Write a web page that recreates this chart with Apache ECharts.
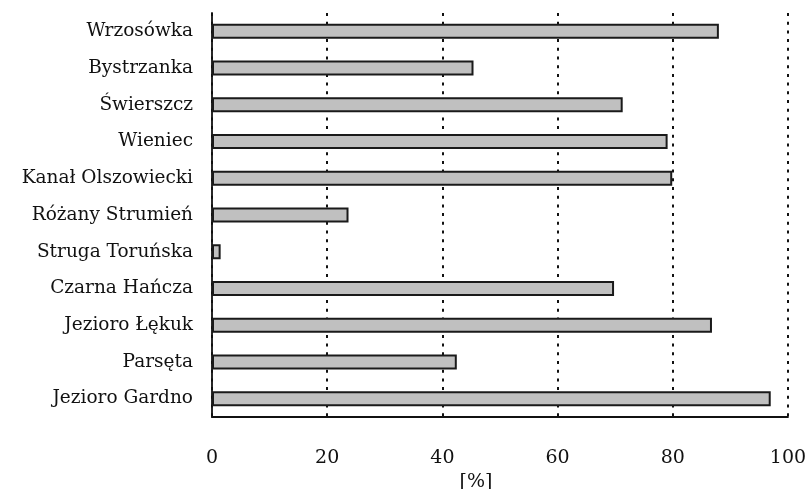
<!DOCTYPE html>
<html><head><meta charset="utf-8">
<script src="https://cdn.jsdelivr.net/npm/echarts@6/dist/echarts.min.js"></script>
<style>html,body{margin:0;padding:0;background:#fff}#c{width:806px;height:489px}</style>
</head><body><div id="c"></div>
<script>
var categories = ["Wrzosówka","Bystrzanka","Świerszcz","Wieniec","Kanał Olszowiecki","Różany Strumień","Struga Toruńska","Czarna Hańcza","Jezioro Łękuk","Parsęta","Jezioro Gardno"];
var values = [88.0, 45.4, 71.3, 79.1, 79.9, 23.7, 1.5, 69.8, 86.8, 42.5, 97.0];
var xTicks = [0, 20, 40, 60, 80, 100];
var axisName = "[%]";

var FONT = "DejaVu Serif";
var chart = echarts.init(document.getElementById('c'), null, {renderer:'canvas'});
chart.setOption({
  animation:false,
  backgroundColor:'#fff',
  grid:{left:212, right:18, top:13, bottom:72, containLabel:false, outerBoundsMode:'none'},
  xAxis:{
    type:'value', min:xTicks[0], max:xTicks[xTicks.length-1], interval:xTicks[1]-xTicks[0],
    name:axisName, nameLocation:'middle', nameGap:56,
    nameTextStyle:{fontFamily:FONT, fontSize:19, color:'#111', padding:[0,48,0,0]},
    axisLine:{show:true, lineStyle:{color:'#111', width:1.8}},
    axisTick:{show:false},
    axisLabel:{fontFamily:FONT, fontSize:19, color:'#111', margin:32},
    splitLine:{show:true, lineStyle:{color:'#111', width:2, type:[3,5.7]}}
  },
  yAxis:{
    type:'category', data:categories, inverse:true,
    axisLine:{show:true, lineStyle:{color:'#111', width:1.8}},
    axisTick:{show:false},
    axisLabel:{fontFamily:FONT, fontSize:18.5, color:'#111', margin:19},
    splitLine:{show:false}
  },
  series:[{
    type:'bar', data:values, barWidth:15,
    itemStyle:{color:'#c0c0c0', borderColor:'#1a1a1a', borderWidth:2}
  }]
});
</script></body></html>
